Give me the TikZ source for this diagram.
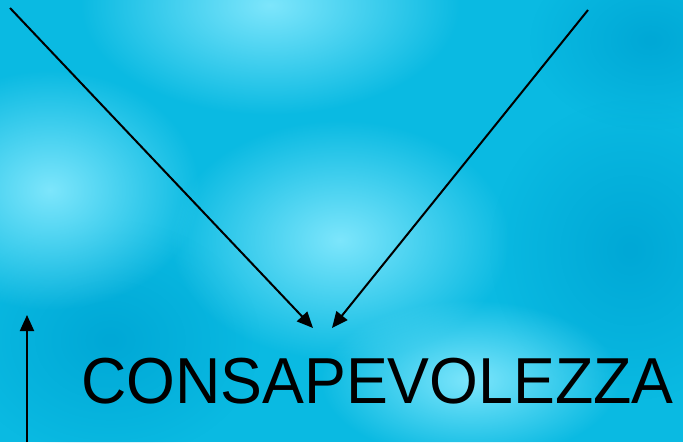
\documentclass[tikz,border=0pt]{standalone}
\usepackage{fontspec}
\setmainfont{Liberation Sans}
\newfontfamily\titlefont[FakeStretch=0.965]{Liberation Sans}
\usetikzlibrary{arrows.meta, positioning, fadings}

\definecolor{seabase}{RGB}{10,186,226}
\definecolor{sealight}{RGB}{125,230,252}
\definecolor{seadark}{RGB}{0,168,214}

\tikzfading[name=softedge, inner color=transparent!0, outer color=transparent!100]

\tikzset{
  pointer/.style={draw=black, line width=2pt, -{Triangle[length=16pt,width=14pt]}},
  blob/.style={fill=#1, path fading=softedge, draw=none},
  title/.style={font=\titlefont\fontsize{65}{65}\selectfont, inner sep=0pt, anchor=base west}
}

\begin{document}
\begin{tikzpicture}[x=1pt, y=-1pt]
  % background
  \fill[seabase] (0,0) rectangle (683,442);
  \useasboundingbox (0,0) rectangle (683,442);
  \begin{scope}
    \clip (0,0) rectangle (683,442);
    \fill[blob=seadark] (110,340) ellipse (150 and 120);
    \fill[blob=seadark] (630,250) ellipse (140 and 150);
    \fill[blob=seadark] (650,40) ellipse (120 and 90);
    \fill[blob=sealight] (270,5) ellipse (190 and 110);
    \fill[blob=sealight] (50,190) ellipse (150 and 120);
    \fill[blob=sealight] (340,240) ellipse (170 and 120);
    \fill[blob=sealight] (470,380) ellipse (150 and 80);
  \end{scope}

  \coordinate (topleft) at (10,8);
  \coordinate (topright) at (588,10);
  \coordinate (foot) at (27,442);
  \coordinate (tipleft) at (313,328);
  \coordinate (tipright) at (332,328);
  \coordinate (tipup) at (27,315);

  \node[title] (word) at (81,403) {CONSAPEVOLEZZA};

  \draw[pointer] (topleft) -- (tipleft);
  \draw[pointer] (topright) -- (tipright);
  \draw[pointer] (foot) -- (tipup);
\end{tikzpicture}
\end{document}
